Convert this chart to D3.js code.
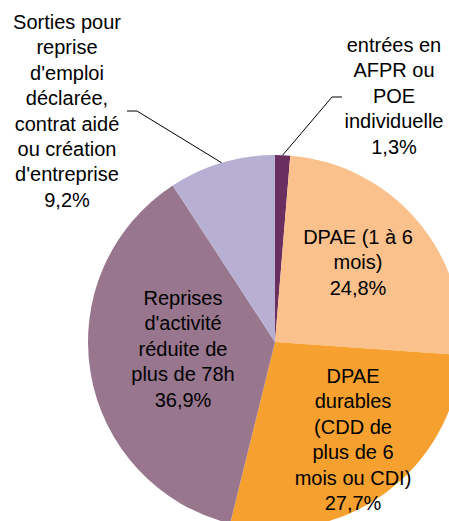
<html>
<head>
<meta charset="utf-8">
<title>Sorties et reprises d'emploi</title>
<style>
  body { margin: 0; background: #fff; }
  .lbl { font-family: "Liberation Sans", Arial, sans-serif; font-size: 20px; fill: #000; }
  .leader { fill: none; stroke: #000; stroke-width: 1px; }
</style>
<script src="https://cdn.jsdelivr.net/npm/d3@7"></script>
</head>
<body>
<svg id="chart" width="449" height="521"></svg>
<script>
// data
var categories = [
  "entrées en AFPR ou POE individuelle",
  "DPAE (1 à 6 mois)",
  "DPAE durables (CDD de plus de 6 mois ou CDI)",
  "Reprises d'activité réduite de plus de 78h",
  "Sorties pour reprise d'emploi déclarée, contrat aidé ou création d'entreprise"
];
var values = [1.3, 24.8, 27.7, 36.9, 9.2];
var labelLines = [
  ["entrées en", "AFPR ou", "POE", "individuelle"],
  ["DPAE (1 à 6", "mois)"],
  ["DPAE", "durables", "(CDD de", "plus de 6", "mois ou CDI)"],
  ["Reprises", "d'activité", "réduite de", "plus de 78h"],
  ["Sorties pour", "reprise", "d'emploi", "déclarée,", "contrat aidé", "ou création", "d'entreprise"]
];
var colors = ["#6b2f5f", "#fbc18c", "#f5a02f", "#98768e", "#b7b0d2"];

// layout
var cx = 275, cy = 342, radius = 187, lineH = 25.4;
// label block centre (first line) relative to pie centre; leader = has elbow line
var labelPos = [
  {x: 119, y: -297, leader: true, elbowX: 57, elbowY: -245, side: 1},
  {x: 83, y: -105},
  {x: 78, y: 34},
  {x: -92, y: -44},
  {x: -208, y: -320, leader: true, elbowX: -138, elbowY: -231, side: -1}
];

var svg = d3.select("#chart");
var g = svg.append("g").attr("transform", "translate(" + cx + "," + cy + ")");

var pie = d3.pie().sort(null).value(function(d) { return d; });
var arc = d3.arc().innerRadius(0).outerRadius(radius);
var arcs = pie(values);

g.selectAll(".slice")
  .data(arcs)
  .enter().append("path")
  .attr("class", "slice")
  .attr("d", arc)
  .attr("fill", function(d, i) { return colors[i]; });

var fmt = function(v) { return String(v.toFixed(1)).replace(".", ",") + "%"; };

// leader lines for outside labels
arcs.forEach(function(a, i) {
  var p = labelPos[i];
  if (!p.leader) return;
  var mid = (a.startAngle + a.endAngle) / 2;
  var ex = radius * Math.sin(mid), ey = -radius * Math.cos(mid);
  g.append("polyline")
    .attr("class", "leader")
    .attr("points", [[ex, ey], [p.elbowX, p.elbowY], [p.elbowX + p.side * 10, p.elbowY]].join(" "));
});

g.selectAll(".lbl")
  .data(arcs)
  .enter().append("text")
  .attr("class", "lbl")
  .attr("text-anchor", "middle")
  .attr("dominant-baseline", "central")
  .each(function(d, i) {
    var t = d3.select(this);
    var lines = labelLines[i].concat([fmt(values[i])]);
    lines.forEach(function(s, k) {
      t.append("tspan")
        .attr("x", labelPos[i].x)
        .attr("y", labelPos[i].y + k * lineH)
        .text(s);
    });
  });
</script>
</body>
</html>
